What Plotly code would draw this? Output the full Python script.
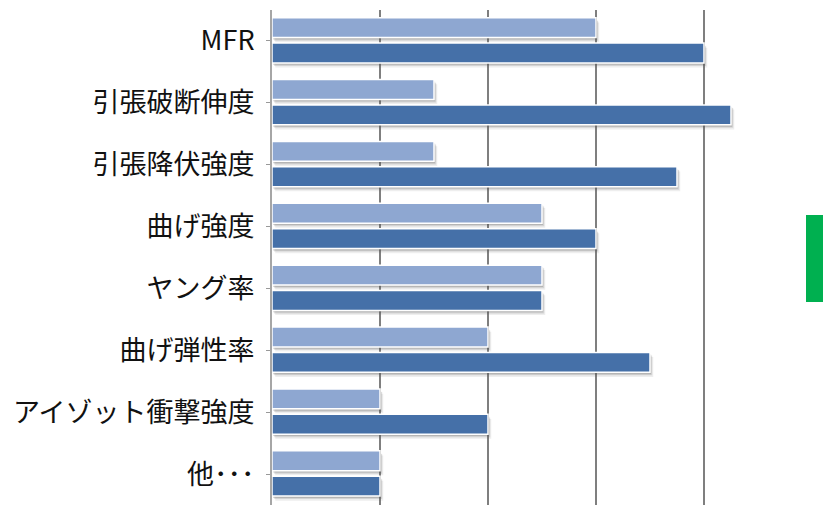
import plotly.graph_objects as go

# Property names (top to bottom) and two series of scores
categories = ["MFR", "引張破断伸度", "引張降伏強度", "曲げ強度", "ヤング率",
              "曲げ弾性率", "アイゾット衝撃強度", "他･･･"]
series_a = [3.0, 1.5, 1.5, 2.5, 2.5, 2.0, 1.0, 1.0]
series_b = [4.0, 4.25, 3.75, 3.0, 2.5, 3.5, 2.0, 1.0]
grid_ticks = [1, 2, 3, 4]

LIGHT = "#8EA7D1"
DARK = "#4570A8"
BAR_W = 0.32
OFF_A = -0.375
OFF_B = 0.035

fig = go.Figure()

# soft drop shadows under each bar
for vals, off in ((series_a, OFF_A), (series_b, OFF_B)):
    for alpha, dy, dx in ((0.10, 0.075, 0.03), (0.18, 0.05, 0.02), (0.25, 0.03, 0.01)):
        fig.add_trace(go.Bar(
            y=categories, x=vals, base=dx, orientation="h",
            offset=off + dy, width=BAR_W,
            marker=dict(color=f"rgba(90,90,90,{alpha})", line=dict(width=0)),
            hoverinfo="skip", showlegend=False,
        ))

fig.add_trace(go.Bar(
    y=categories, x=series_a, orientation="h", offset=OFF_A, width=BAR_W,
    marker=dict(color=LIGHT, line=dict(color="white", width=1.5)),
    showlegend=False,
))
fig.add_trace(go.Bar(
    y=categories, x=series_b, orientation="h", offset=OFF_B, width=BAR_W,
    marker=dict(color=DARK, line=dict(color="white", width=1.5)),
    showlegend=False,
))

fig.update_layout(
    width=823, height=505,
    margin=dict(l=272, r=11, t=10, b=0),
    barmode="overlay",
    plot_bgcolor="white", paper_bgcolor="white",
    font=dict(family="Noto Sans CJK JP", color="#111111"),
    xaxis=dict(range=[0, 5], tickvals=grid_ticks, showticklabels=False,
               showgrid=True, gridcolor="#7f7f7f", gridwidth=1.5,
               zeroline=False, showline=False, fixedrange=True),
    yaxis=dict(autorange=False, range=[7.5, -0.5],
               tickfont=dict(size=27, weight=400),
               ticks="outside", ticklen=4, tickcolor="#999999",
               ticklabelstandoff=6, showline=True, linecolor="#a6a6a6",
               linewidth=2, showgrid=False, zeroline=False),
    shapes=[dict(type="rect", xref="paper", yref="paper",
                 x0=(806 - 272) / 540, x1=1.03, y0=(505 - 302) / 495, y1=(505 - 215) / 495,
                 fillcolor="#00B050", line=dict(width=0), layer="above")],
)

fig.write_html("out.html")
